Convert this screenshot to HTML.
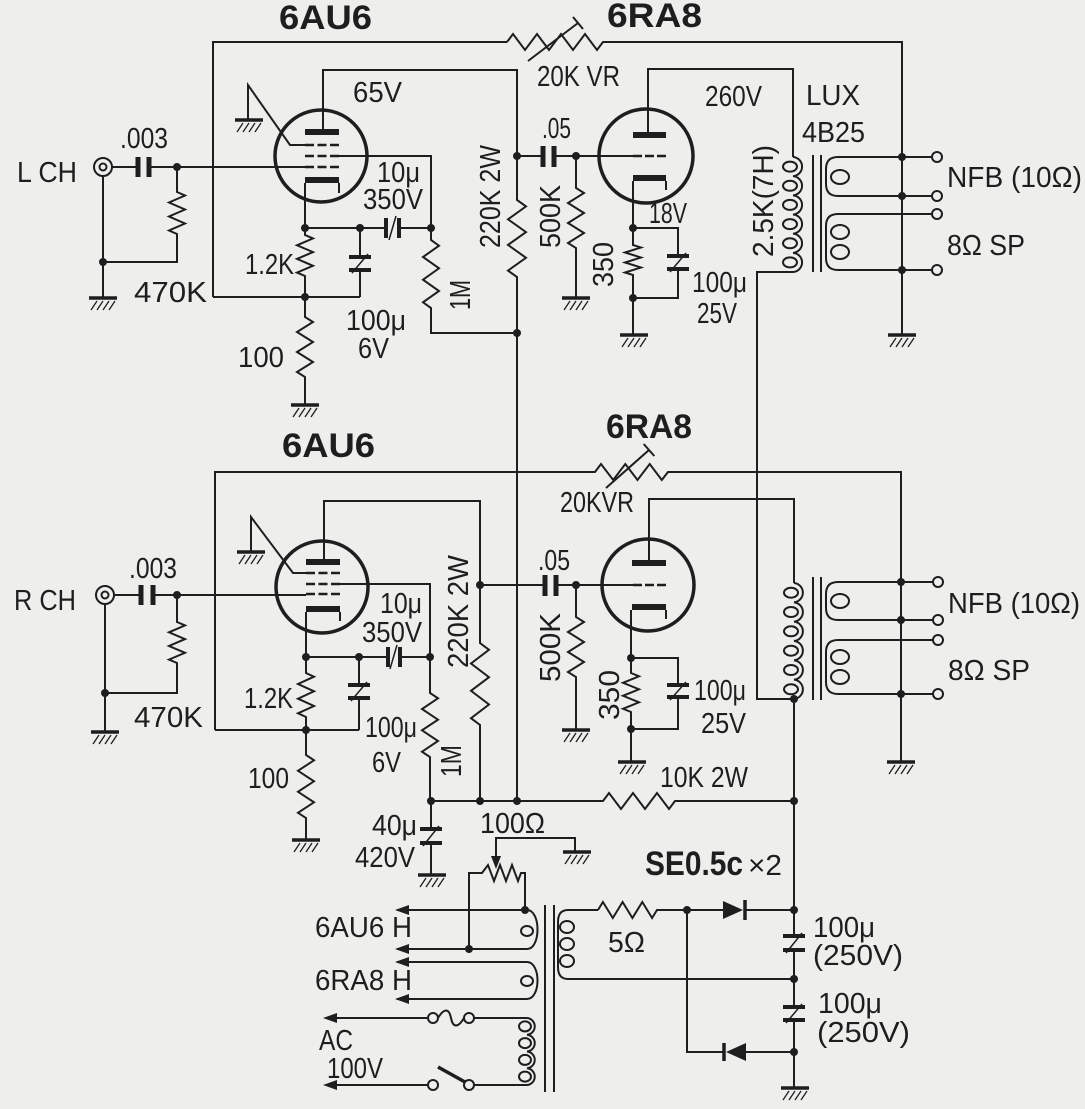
<!DOCTYPE html>
<html><head><meta charset="utf-8"><style>
html,body{margin:0;padding:0;background:#eeeeec;}
svg{display:block}
text{font-family:"Liberation Sans",Arial,sans-serif;font-size:29px;fill:#1e1e1e}
.b{font-weight:bold;font-size:34px}
</style></head><body>
<svg width="1085" height="1109" viewBox="0 0 1085 1109" xmlns="http://www.w3.org/2000/svg">
<defs>
<g id="g"><line x1="-14" y1="0" x2="14" y2="0" stroke="#1e1e1e" stroke-width="3.5"/><path d="M-6,3 L-12,12 M0,3 L-6,12 M6,3 L0,12 M12,3 L6,12" stroke="#1e1e1e" stroke-width="1.3" fill="none"/></g>
</defs>
<rect width="1085" height="1109" fill="#eeeeec"/>
<g fill="none" stroke="#1e1e1e" stroke-width="2">
<!-- ===== UPPER CHANNEL ===== -->
<path d="M213,297 L213,42 L507,42"/>
<polyline points="507,42 513,34 525,50 537,34 549,50 561,34 573,50 585,34 597,50 603,42 902,42 902,335"/>
<path d="M528,61 L578,23 M573,17 L583,29"/>
<path d="M213,297 L360,297"/>
<circle cx="103" cy="167" r="9"/><circle cx="103" cy="167" r="3.5"/>
<path d="M112,167 L137,167 M150,167 L305,167"/>
<path d="M138,157 V177 M149,157 V177" stroke-width="5"/>
<polyline points="177,167 177,192 185,195.5 169,202.5 185,209.5 169,216.5 185,223.5 169,230.5 177,234 177,262 103,262"/>
<path d="M103,176 L103,298"/>
<polyline points="305,183 305,235 313,238.4 297,245.3 313,252.1 297,258.9 313,265.8 297,272.6 305,276 305,317 313,322 297,332 313,342 297,352 313,362 297,372 305,377 305,405"/>
<path d="M305,228 L386,228 M399,228 L431,228"/>
<path d="M386,218 V238 M399,218 V238" stroke-width="4"/>
<path d="M396,216 L389,240" stroke-width="1.5"/>
<path d="M360,228 V257 M360,270 V297"/>
<path d="M349,257 H371 M349,270 H371" stroke-width="4"/>
<path d="M368,254 L352,273" stroke-width="1.5"/>
<polyline points="339,156 431,156 431,240 439,245.7 423,257 439,268.3 423,279.7 439,291 423,302.3 431,308 431,333 517,333"/>
<polyline points="323,130 323,70 517,70 517,200 526,206.4 508,219.3 526,232.1 508,244.9 526,257.8 508,270.6 517,277 517,801"/>
<polyline points="248,120 248,85 290,145 305,145"/>
<path d="M517,156 H542 M555,156 H633"/>
<path d="M543,146 V167 M554,146 V167" stroke-width="5"/>
<polyline points="576,156 576,188 584,193 568,203 584,213 568,223 584,233 568,243 576,248 576,298"/>
<polyline points="648,133 648,69 793,69 793,157"/>
<path d="M793,157 a9.6,9.6 0 0 1 0,19.17 a9.6,9.6 0 0 1 0,19.17 a9.6,9.6 0 0 1 0,19.17 a9.6,9.6 0 0 1 0,19.17 a9.6,9.6 0 0 1 0,19.17 a9.6,9.6 0 0 1 0,19.17"/>
<ellipse cx="790" cy="166.6" rx="7" ry="5"/><ellipse cx="790" cy="185.8" rx="7" ry="5"/><ellipse cx="790" cy="204.9" rx="7" ry="5"/><ellipse cx="790" cy="224.1" rx="7" ry="5"/><ellipse cx="790" cy="243.3" rx="7" ry="5"/><ellipse cx="790" cy="262.4" rx="7" ry="5"/>
<path d="M793,272 L757,272 L757,699 L794,699"/>
<polyline points="633,181 633,245 641,247.5 625,252.5 641,257.5 625,262.5 641,267.5 625,272.5 633,275 633,335"/>
<polyline points="633,228 678,228 678,256"/>
<polyline points="678,269 678,298 633,298"/>
<path d="M667,256 H689 M667,269 H689" stroke-width="4"/>
<path d="M686,253 L670,272" stroke-width="1.5"/>
<path d="M813,155 V272 M821,155 V272"/>
<path d="M902,157 H838 Q826,157 826,169 V184 Q826,196 838,196 H932"/>
<ellipse cx="840" cy="177" rx="9" ry="7"/>
<path d="M932,214 H838 Q826,214 826,226 V258 Q826,270 838,270 H932"/>
<ellipse cx="840" cy="232" rx="9" ry="7"/><ellipse cx="840" cy="252" rx="9" ry="7"/>
<path d="M902,157 H932"/>
<circle cx="937" cy="157" r="5"/><circle cx="937" cy="196" r="5"/><circle cx="937" cy="214" r="5"/><circle cx="937" cy="270" r="5"/>
<!-- upper tubes -->
<circle cx="321" cy="156" r="46" stroke-width="3.5"/>
<path d="M305,145 H339 M305,156 H339 M305,167 H339" stroke-dasharray="9 3.5" stroke-width="2.5"/>
<path d="M339,183 V193"/>
<circle cx="646" cy="156" r="47" stroke-width="3.5"/>
<path d="M633,156 H666" stroke-dasharray="9 3" stroke-width="2.5"/>
<path d="M666,181 V190"/>

<!-- ===== LOWER CHANNEL ===== -->
<polyline points="215,730 215,472 595,472 601,464 613.2,480 625.3,464 637.5,480 649.7,464 661.8,480 668,472 901,472 901,762"/>
<path d="M606,488 L649,450 M643.7,444 L654.3,456"/>
<path d="M215,730 H359"/>
<circle cx="105" cy="595" r="9"/><circle cx="105" cy="595" r="3.5"/>
<path d="M114,595 H140 M154,595 H306"/>
<path d="M141,585 V605 M153,585 V605" stroke-width="5"/>
<polyline points="177,595 177,622 185,625.4 169,632.3 185,639.1 169,646 185,652.8 169,659.6 177,663 177,693 105,693"/>
<path d="M105,604 V732"/>
<polyline points="306,612 306,673 314,676.7 298,684 314,691.3 298,698.7 314,706 298,713.3 306,717 306,755 314,760.3 298,770.8 314,781.3 298,791.8 314,802.3 298,812.8 306,818 306,840"/>
<path d="M306,657 H388 M400,657 H430"/>
<path d="M388,647 V667 M400,647 V667" stroke-width="4"/>
<path d="M397,645 L390,669" stroke-width="1.5"/>
<path d="M359,657 V685 M359,698 V730"/>
<path d="M348,685 H370 M348,698 H370" stroke-width="4"/>
<path d="M367,682 L351,701" stroke-width="1.5"/>
<polyline points="340,584 430,584 430,693 438,698.3 422,709 438,719.7 422,730.3 438,741 422,751.7 430,757 430,801"/>
<polyline points="324,560 324,501 480,501 480,643 489,649.8 471,663.5 489,677.2 471,690.8 489,704.5 471,718.2 480,725 480,801"/>
<polyline points="251,552 251,517 293,573 306,573"/>
<path d="M480,585 H544 M557,585 H633"/>
<path d="M545,575 V596 M556,575 V596" stroke-width="5"/>
<polyline points="576,585 576,617 584,622 568,632 584,642 568,652 584,662 568,672 576,677 576,730"/>
<polyline points="649,561 649,499 794,499 794,583"/>
<path d="M794,583 a9.7,9.7 0 0 1 0,19.33 a9.7,9.7 0 0 1 0,19.33 a9.7,9.7 0 0 1 0,19.33 a9.7,9.7 0 0 1 0,19.33 a9.7,9.7 0 0 1 0,19.33 a9.7,9.7 0 0 1 0,19.33"/>
<ellipse cx="791" cy="592.7" rx="7" ry="5"/><ellipse cx="791" cy="612" rx="7" ry="5"/><ellipse cx="791" cy="631.3" rx="7" ry="5"/><ellipse cx="791" cy="650.7" rx="7" ry="5"/><ellipse cx="791" cy="670" rx="7" ry="5"/><ellipse cx="791" cy="689.3" rx="7" ry="5"/>
<polyline points="631,610 631,673 639,676.3 623,682.8 639,689.3 623,695.8 639,702.3 623,708.8 631,712 631,762"/>
<polyline points="631,658 678,658 678,685"/>
<polyline points="678,697 678,729 631,729"/>
<path d="M667,685 H689 M667,697 H689" stroke-width="4"/>
<path d="M686,682 L670,700" stroke-width="1.5"/>
<path d="M813,577 V700 M821,577 V700"/>
<path d="M901,582 H838 Q826,582 826,594 V608 Q826,620 838,620 H933"/>
<ellipse cx="840" cy="601" rx="9" ry="7"/>
<path d="M933,640 H838 Q826,640 826,652 V682 Q826,694 838,694 H933"/>
<ellipse cx="840" cy="657" rx="9" ry="7"/><ellipse cx="840" cy="677" rx="9" ry="7"/>
<path d="M901,582 H933"/>
<circle cx="938" cy="582" r="5"/><circle cx="938" cy="620" r="5"/><circle cx="938" cy="640" r="5"/><circle cx="938" cy="694" r="5"/>
<!-- lower tubes -->
<circle cx="322" cy="587" r="46" stroke-width="3.5"/>
<path d="M306,573 H340 M306,584 H340 M306,594 H340" stroke-dasharray="9 3.5" stroke-width="2.5"/>
<path d="M340,612 V621"/>
<circle cx="648" cy="585" r="46" stroke-width="3.5"/>
<path d="M633,585 H666" stroke-dasharray="9 3" stroke-width="2.5"/>
<path d="M666,610 V619"/>

<!-- ===== POWER SUPPLY ===== -->
<polyline points="431,801 603,801 609,793 621,809 633,793 645,809 657,793 669,809 675,801 794,801"/>
<path d="M431,801 V829 M431,843 V875"/>
<path d="M420,829 H442 M420,843 H442" stroke-width="4"/>
<path d="M439,826 L423,846" stroke-width="1.5"/>
<path d="M794,699 V936 M794,950 V1007 M794,1020 V1088"/>
<path d="M783,936 H805 M783,950 H805 M783,1007 H805 M783,1020 H805" stroke-width="4"/>
<path d="M802,933 L786,953 M802,1004 L786,1023" stroke-width="1.5"/>
<polyline points="469,950 469,873 482,873 488,865 494,881 500,865 506,881 512,865 518,881 521,873 525,873 525,910"/>
<path d="M575,852 V838 H496 V858"/>
<path d="M397,910 H527 C541,910 541,949 527,949 H397"/>
<ellipse cx="527" cy="931" rx="6" ry="5"/>
<path d="M397,962 H527 C541,962 541,999 527,999 H397"/>
<ellipse cx="527" cy="981" rx="6" ry="5"/>
<path d="M335,1018 H428"/>
<circle cx="433" cy="1018" r="5"/><circle cx="469" cy="1018" r="5"/>
<path d="M438,1018 C444,1008 449,1008 451,1018 C453,1028 458,1028 464,1018"/>
<path d="M474,1018 H527 a8.4,8.4 0 0 1 0,16.75 a8.4,8.4 0 0 1 0,16.75 a8.4,8.4 0 0 1 0,16.75 a8.4,8.4 0 0 1 0,16.75 H474"/>
<ellipse cx="525" cy="1026.4" rx="6" ry="5"/><ellipse cx="525" cy="1043.1" rx="6" ry="5"/><ellipse cx="525" cy="1059.9" rx="6" ry="5"/><ellipse cx="525" cy="1076.6" rx="6" ry="5"/>
<circle cx="469" cy="1085" r="5"/><circle cx="433" cy="1085" r="5"/>
<path d="M428,1085 H335"/>
<path d="M438,1067 L465,1082" stroke-width="3.5"/>
<path d="M545,905 V1092 M554,905 V1092"/>
<path d="M598,910 H568 Q558,910 558,922 V967 Q558,979 568,979 H794"/>
<ellipse cx="567" cy="927" rx="7" ry="6"/><ellipse cx="567" cy="944" rx="7" ry="6"/><ellipse cx="567" cy="961" rx="7" ry="6"/>
<polyline points="598,910 602.9,902 612.8,918 622.6,902 632.4,918 642.3,902 652.1,918 657,910 723,910"/>
<path d="M745,910 H794"/>
<path d="M745,900 V920" stroke-width="3.5"/>
<path d="M687,910 V1052 H724"/>
<path d="M724,1043 V1061" stroke-width="3.5"/>
<path d="M746,1052 H794"/>
</g>

<g fill="#1e1e1e">
<rect x="305" y="129" width="34" height="6"/><rect x="305" y="177" width="34" height="6"/>
<rect x="633" y="132" width="33" height="6"/><rect x="633" y="175" width="33" height="6"/>
<rect x="306" y="559" width="34" height="6"/><rect x="306" y="606" width="34" height="6"/>
<rect x="632" y="560" width="34" height="6"/><rect x="632" y="604" width="34" height="6"/>
<polygon points="723,901 723,919 743,910"/>
<polygon points="726,1052 746,1043 746,1061"/>
<polygon points="491,856 501,856 496,869"/>
<polygon points="395,910 409,905 409,915"/>
<polygon points="395,949 409,944 409,954"/>
<polygon points="395,962 409,957 409,967"/>
<polygon points="395,999 409,994 409,1004"/>
<polygon points="323,1018 337,1013 337,1023"/>
<polygon points="323,1085 337,1080 337,1090"/>
<circle cx="177" cy="167" r="4"/><circle cx="103" cy="262" r="4"/><circle cx="305" cy="228" r="4"/><circle cx="360" cy="228" r="4"/><circle cx="431" cy="228" r="4"/><circle cx="305" cy="297" r="4"/><circle cx="517" cy="156" r="4"/><circle cx="576" cy="156" r="4"/><circle cx="517" cy="333" r="4"/><circle cx="633" cy="228" r="4"/><circle cx="633" cy="298" r="4"/><circle cx="902" cy="157" r="4"/><circle cx="902" cy="196" r="4"/><circle cx="902" cy="270" r="4"/>
<circle cx="177" cy="595" r="4"/><circle cx="105" cy="693" r="4"/><circle cx="306" cy="657" r="4"/><circle cx="359" cy="657" r="4"/><circle cx="430" cy="657" r="4"/><circle cx="306" cy="730" r="4"/><circle cx="480" cy="585" r="4"/><circle cx="576" cy="585" r="4"/><circle cx="631" cy="658" r="4"/><circle cx="631" cy="729" r="4"/><circle cx="901" cy="582" r="4"/><circle cx="901" cy="620" r="4"/><circle cx="901" cy="694" r="4"/><circle cx="794" cy="699" r="4"/>
<circle cx="431" cy="801" r="4"/><circle cx="480" cy="801" r="4"/><circle cx="517" cy="801" r="4"/><circle cx="794" cy="801" r="4"/><circle cx="525" cy="910" r="4"/><circle cx="469" cy="949" r="4"/><circle cx="687" cy="910" r="4"/><circle cx="794" cy="910" r="4"/><circle cx="794" cy="979" r="4"/><circle cx="794" cy="1052" r="4"/>
</g>

<use href="#g" transform="translate(103,298)"/>
<use href="#g" transform="translate(249,120)"/>
<use href="#g" transform="translate(305,405)"/>
<use href="#g" transform="translate(576,298)"/>
<use href="#g" transform="translate(634,335)"/>
<use href="#g" transform="translate(902,335)"/>
<use href="#g" transform="translate(105,732)"/>
<use href="#g" transform="translate(251,552)"/>
<use href="#g" transform="translate(306,840)"/>
<use href="#g" transform="translate(576,730)"/>
<use href="#g" transform="translate(632,762)"/>
<use href="#g" transform="translate(901,762)"/>
<use href="#g" transform="translate(432,875)"/>
<use href="#g" transform="translate(577,852)"/>
<use href="#g" transform="translate(795,1088)"/>

<text class="b" x="279" y="29" textLength="93" lengthAdjust="spacingAndGlyphs">6AU6</text>
<text class="b" x="607" y="27" textLength="95" lengthAdjust="spacingAndGlyphs">6RA8</text>
<text x="17" y="182" textLength="60" lengthAdjust="spacingAndGlyphs">L CH</text>
<text x="120" y="148" textLength="48" lengthAdjust="spacingAndGlyphs">.003</text>
<text x="134" y="302" textLength="73" lengthAdjust="spacingAndGlyphs">470K</text>
<text x="353" y="102" textLength="49" lengthAdjust="spacingAndGlyphs">65V</text>
<text x="377" y="182" textLength="43" lengthAdjust="spacingAndGlyphs">10μ</text>
<text x="363" y="209" textLength="60" lengthAdjust="spacingAndGlyphs">350V</text>
<text x="245" y="274" textLength="49" lengthAdjust="spacingAndGlyphs">1.2K</text>
<text x="346" y="330" textLength="60" lengthAdjust="spacingAndGlyphs">100μ</text>
<text x="358" y="358" textLength="31" lengthAdjust="spacingAndGlyphs">6V</text>
<text x="238" y="367" textLength="46" lengthAdjust="spacingAndGlyphs">100</text>
<text transform="translate(470,310) rotate(-90)" textLength="30" lengthAdjust="spacingAndGlyphs">1M</text>
<text transform="translate(500,248) rotate(-90)" textLength="103" lengthAdjust="spacingAndGlyphs">220K 2W</text>
<text transform="translate(560,248) rotate(-90)" textLength="63" lengthAdjust="spacingAndGlyphs">500K</text>
<text transform="translate(613,287) rotate(-90)" textLength="45" lengthAdjust="spacingAndGlyphs">350</text>
<text transform="translate(773,257) rotate(-90)" textLength="112" lengthAdjust="spacingAndGlyphs">2.5K(7H)</text>
<text x="542" y="138" textLength="29" lengthAdjust="spacingAndGlyphs">.05</text>
<text x="537" y="86" textLength="83" lengthAdjust="spacingAndGlyphs">20K VR</text>
<text x="705" y="106" textLength="57" lengthAdjust="spacingAndGlyphs">260V</text>
<text x="806" y="105" textLength="54" lengthAdjust="spacingAndGlyphs">LUX</text>
<text x="802" y="142" textLength="63" lengthAdjust="spacingAndGlyphs">4B25</text>
<text x="649" y="223" textLength="38" lengthAdjust="spacingAndGlyphs">18V</text>
<text x="692" y="292" textLength="55" lengthAdjust="spacingAndGlyphs">100μ</text>
<text x="697" y="323" textLength="40" lengthAdjust="spacingAndGlyphs">25V</text>
<text x="947" y="187" textLength="135" lengthAdjust="spacingAndGlyphs">NFB (10Ω)</text>
<text x="947" y="255" textLength="78" lengthAdjust="spacingAndGlyphs">8Ω SP</text>

<text class="b" x="282" y="457" textLength="93" lengthAdjust="spacingAndGlyphs">6AU6</text>
<text class="b" x="606" y="438" textLength="86" lengthAdjust="spacingAndGlyphs">6RA8</text>
<text x="14" y="610" textLength="62" lengthAdjust="spacingAndGlyphs">R CH</text>
<text x="129" y="578" textLength="48" lengthAdjust="spacingAndGlyphs">.003</text>
<text x="134" y="727" textLength="69" lengthAdjust="spacingAndGlyphs">470K</text>
<text x="380" y="613" textLength="42" lengthAdjust="spacingAndGlyphs">10μ</text>
<text x="362" y="642" textLength="60" lengthAdjust="spacingAndGlyphs">350V</text>
<text x="244" y="708" textLength="49" lengthAdjust="spacingAndGlyphs">1.2K</text>
<text x="365" y="737" textLength="52" lengthAdjust="spacingAndGlyphs">100μ</text>
<text x="372" y="772" textLength="29" lengthAdjust="spacingAndGlyphs">6V</text>
<text x="248" y="788" textLength="41" lengthAdjust="spacingAndGlyphs">100</text>
<text transform="translate(461,777) rotate(-90)" textLength="32" lengthAdjust="spacingAndGlyphs">1M</text>
<text transform="translate(468,668) rotate(-90)" textLength="113" lengthAdjust="spacingAndGlyphs">220K 2W</text>
<text transform="translate(560,682) rotate(-90)" textLength="69" lengthAdjust="spacingAndGlyphs">500K</text>
<text transform="translate(619,720) rotate(-90)" textLength="50" lengthAdjust="spacingAndGlyphs">350</text>
<text x="560" y="512" textLength="74" lengthAdjust="spacingAndGlyphs">20KVR</text>
<text x="538" y="570" textLength="32" lengthAdjust="spacingAndGlyphs">.05</text>
<text x="694" y="700" textLength="52" lengthAdjust="spacingAndGlyphs">100μ</text>
<text x="701" y="733" textLength="45" lengthAdjust="spacingAndGlyphs">25V</text>
<text x="660" y="787" textLength="88" lengthAdjust="spacingAndGlyphs">10K 2W</text>
<text x="948" y="613" textLength="132" lengthAdjust="spacingAndGlyphs">NFB (10Ω)</text>
<text x="948" y="680" textLength="82" lengthAdjust="spacingAndGlyphs">8Ω SP</text>

<text x="372" y="835" textLength="45" lengthAdjust="spacingAndGlyphs">40μ</text>
<text x="355" y="867" textLength="60" lengthAdjust="spacingAndGlyphs">420V</text>
<text x="480" y="833" textLength="65" lengthAdjust="spacingAndGlyphs">100Ω</text>
<text class="b" x="645" y="875" textLength="98" lengthAdjust="spacingAndGlyphs">SE0.5c</text>
<text x="748" y="875" font-size="26" textLength="34" lengthAdjust="spacingAndGlyphs">×2</text>
<text x="315" y="937" textLength="97" lengthAdjust="spacingAndGlyphs">6AU6 H</text>
<text x="315" y="990" textLength="97" lengthAdjust="spacingAndGlyphs">6RA8 H</text>
<text x="319" y="1050" textLength="34" lengthAdjust="spacingAndGlyphs">AC</text>
<text x="327" y="1078" textLength="56" lengthAdjust="spacingAndGlyphs">100V</text>
<text x="608" y="952" textLength="37" lengthAdjust="spacingAndGlyphs">5Ω</text>
<text x="813" y="937" textLength="62" lengthAdjust="spacingAndGlyphs">100μ</text>
<text x="813" y="965" textLength="90" lengthAdjust="spacingAndGlyphs">(250V)</text>
<text x="818" y="1013" textLength="64" lengthAdjust="spacingAndGlyphs">100μ</text>
<text x="817" y="1042" textLength="93" lengthAdjust="spacingAndGlyphs">(250V)</text>
</svg>
</body></html>
